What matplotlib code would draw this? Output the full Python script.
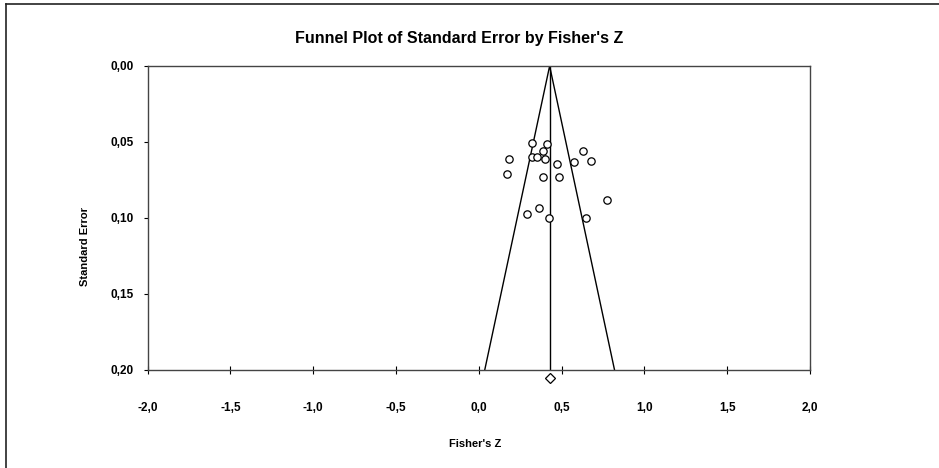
import matplotlib
matplotlib.use("Agg")
from matplotlib import pyplot as plt
from matplotlib.lines import Line2D

# study effects (Fisher's Z) and their standard errors
fisher_z = [0.318, 0.411, 0.387, 0.632, 0.181, 0.318, 0.354, 0.401, 0.677, 0.574,
            0.471, 0.171, 0.387, 0.483, 0.773, 0.362, 0.288, 0.423, 0.646]
std_err = [0.0505, 0.0511, 0.0559, 0.0561, 0.0612, 0.0597, 0.0597, 0.0614, 0.0623, 0.0634,
           0.0647, 0.0708, 0.0728, 0.0728, 0.0884, 0.0934, 0.0972, 0.1002, 0.0998]
pooled_z = 0.4275
se_max = 0.20
x_ticks = [-2.0, -1.5, -1.0, -0.5, 0.0, 0.5, 1.0, 1.5, 2.0]
y_ticks = [0.00, 0.05, 0.10, 0.15, 0.20]

plt.rcParams['font.family'] = ['Liberation Sans', 'DejaVu Sans']

W, H = 939, 468
fig = plt.figure(figsize=(W / 100, H / 100), dpi=100)
ax = fig.add_axes([147.7 / W, 1 - 370 / H, (810 - 147.7) / W, (370 - 66) / H])

# funnel (95% limits) and pooled estimate line
ax.plot([pooled_z - 1.96 * se_max, pooled_z, pooled_z + 1.96 * se_max], [se_max, 0, se_max],
        color='black', lw=1.0)
ax.plot([pooled_z, pooled_z], [0, se_max], color='black', lw=1.0)

ax.scatter(fisher_z, std_err, s=28, facecolors='white', edgecolors='black', linewidths=0.9, zorder=3)
ax.plot([pooled_z], [0.2053], marker='D', ms=5.5, mfc='white', mec='black', mew=0.9,
        clip_on=False, zorder=4)

ax.set_xlim(-2, 2)
ax.set_ylim(se_max, 0)
ax.set_xticks(x_ticks)
ax.set_xticklabels([f"{v:.1f}".replace('.', ',') for v in x_ticks], fontsize=8.5, fontweight='bold')
ax.set_yticks(y_ticks)
ax.set_yticklabels([f"{v:.2f}".replace('.', ',') for v in y_ticks], fontsize=8.5, fontweight='bold')
ax.tick_params(axis='x', direction='inout', length=6, width=0.8, pad=20)
ax.tick_params(axis='y', direction='out', length=3, width=0.8, pad=7)
for s in ax.spines.values():
    s.set_linewidth(1.0)
    s.set_color('#444444')

fig.text(459 / W, 1 - 38 / H, "Funnel Plot of Standard Error by Fisher's Z",
         ha='center', va='center', fontsize=11.5, fontweight='bold')
fig.text(475 / W, 1 - 444 / H, "Fisher's Z", ha='center', va='center', fontsize=8, fontweight='bold')
fig.text(85 / W, 1 - 247 / H, "Standard Error", ha='center', va='center', rotation=90,
         fontsize=8, fontweight='bold')

# outer frame (top and left edges visible)
fig.add_artist(Line2D([6 / W, 6 / W], [0, 1 - 4 / H], transform=fig.transFigure, color='#222222', lw=1.2))
fig.add_artist(Line2D([6 / W, 1], [1 - 4 / H, 1 - 4 / H], transform=fig.transFigure, color='#222222', lw=1.2))

fig.savefig("out.png", dpi=100)
